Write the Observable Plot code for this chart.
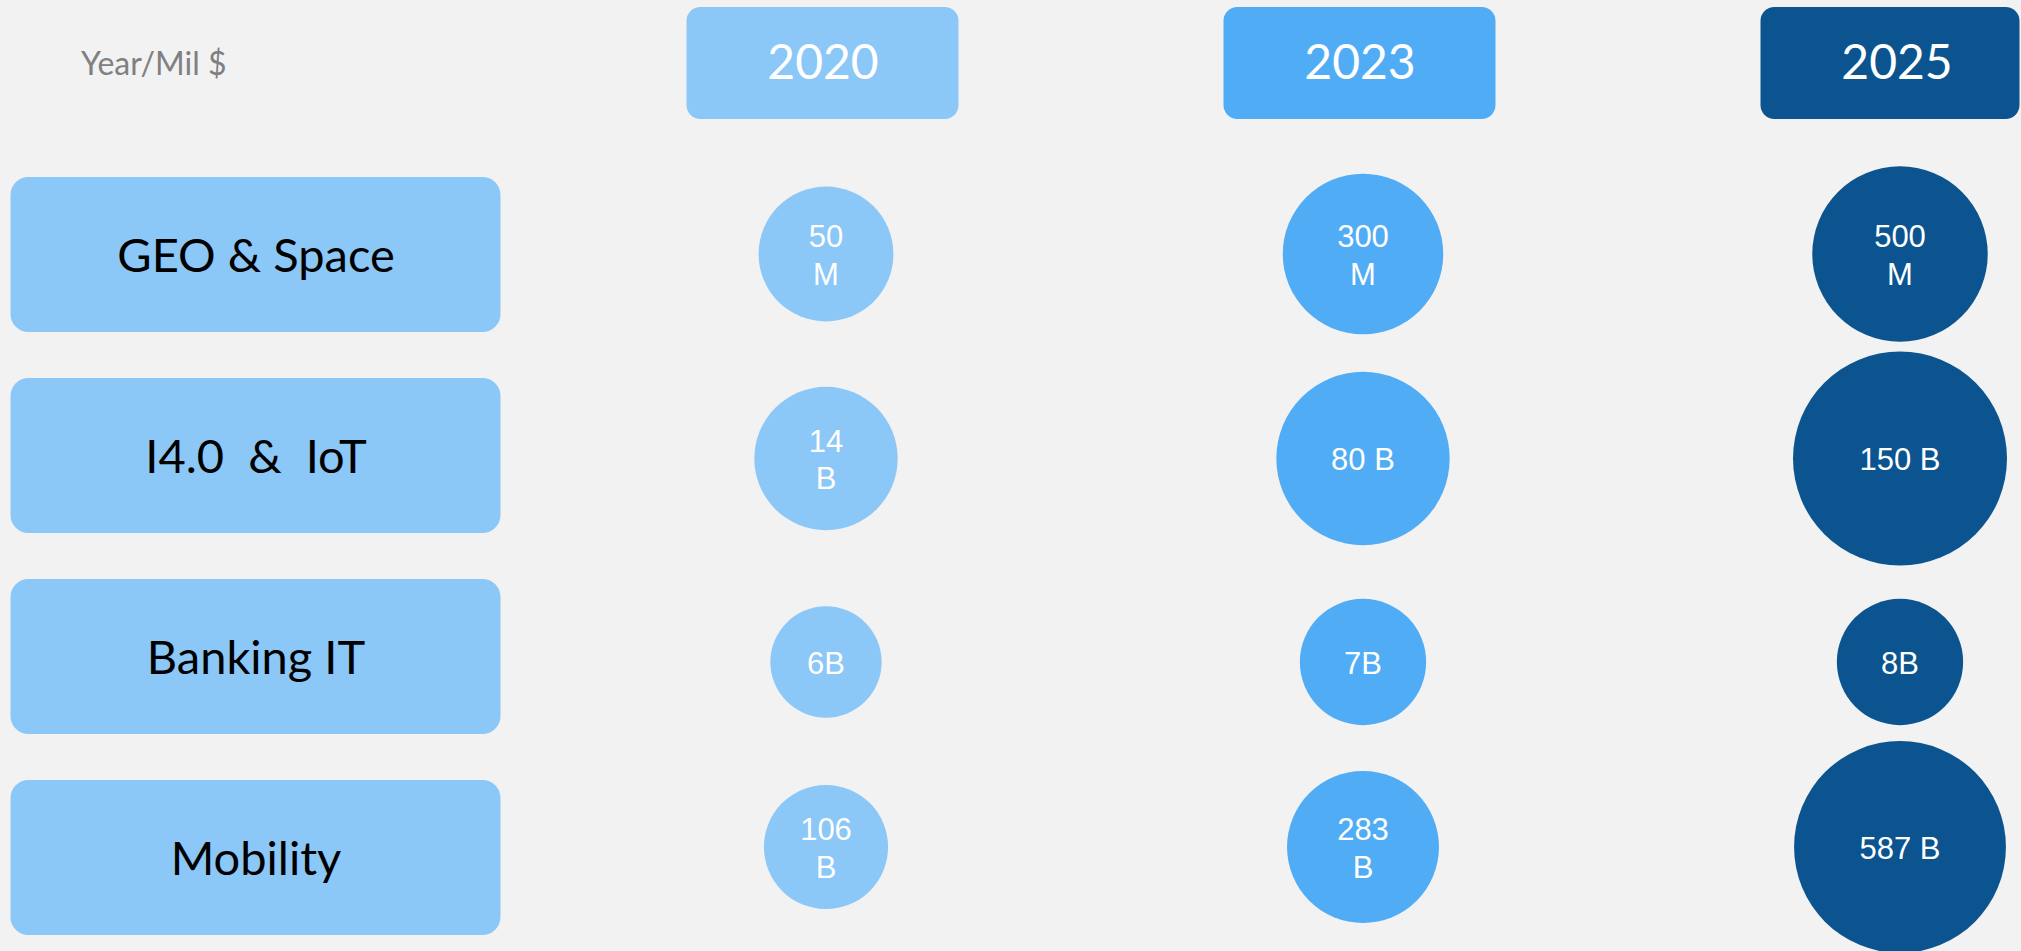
<!DOCTYPE html>
<html>
<head>
<meta charset="utf-8">
<script src="https://cdn.jsdelivr.net/npm/d3@7"></script>
<script src="https://cdn.jsdelivr.net/npm/@observablehq/plot@0.6"></script>
<style>
  html, body { margin: 0; padding: 0; background: #f2f2f2; }
  #chart svg { display: block; }
  #chart text { white-space: pre; }
</style>
</head>
<body>
<div id="chart"></div>
<script>
// ---- data ----
const cornerLabel = "Year/Mil $";
const categories = ["GEO & Space", "I4.0  &  IoT", "Banking IT", "Mobility"];
const years = ["2020", "2023", "2025"];
const labels2020 = ["50\nM", "14\nB", "6B", "106\nB"];
const labels2023 = ["300\nM", "80 B", "7B", "283\nB"];
const labels2025 = ["500\nM", "150 B", "8B", "587 B"];
// relative bubble magnitude (index, largest = 100)
const bubble2020 = [63, 67, 52, 58];
const bubble2023 = [75, 81, 59, 71];
const bubble2025 = [82, 100, 59, 99];
const yearColors = ["#8bc7f7", "#51acf6", "#0b548f"];

const labelsByYear = [labels2020, labels2023, labels2025];
const bubblesByYear = [bubble2020, bubble2023, bubble2025];
const table = years.flatMap((yr, i) => categories.map((c, j) => ({
  year: yr, category: c, label: labelsByYear[i][j], size: bubblesByYear[i][j]
})));

const HEAD = "head";
const LABELCOL = "label";
const gill = "Lato, 'Open Sans', sans-serif";
const arial = "'Liberation Sans', Arial, sans-serif";

// small vertical nudges of the bubble rows (layout style)
const rowNudge = [-1, 2.5, 5, -11];

const bubbleMarks = categories.flatMap((c, j) => {
  const rows = table.filter(d => d.category === c);
  return [
    Plot.dot(rows, { x: "year", y: "category", r: "size", fill: "year", stroke: null, dy: rowNudge[j] }),
    Plot.text(rows, {
      x: "year", y: "category", text: "label", fill: "white",
      fontFamily: arial, fontSize: 31, lineHeight: 1.2, dy: rowNudge[j]
    })
  ];
});

const chart = Plot.plot({
  width: 2021,
  height: 951,
  margin: 0,
  style: { background: "#f2f2f2", overflow: "hidden" },
  x: { type: "band", domain: [LABELCOL, ...years], range: [19.5, 2167.5], padding: 0, axis: null },
  y: { type: "band", domain: [HEAD, ...categories], range: [-48, 959], padding: 0, axis: null },
  r: { type: "linear", domain: [0, 100], range: [0, 107] },
  color: { type: "ordinal", domain: years, range: yearColors },
  marks: [
    // year header boxes
    Plot.cell(years.filter(y => y !== "2025"), {
      x: d => d, y: () => HEAD, fill: d => d, rx: 14,
      insetLeft: 129.5, insetRight: 135.5, insetTop: 54, insetBottom: 35
    }),
    Plot.cell(years.filter(y => y === "2025"), {
      x: d => d, y: () => HEAD, fill: d => d, rx: 14,
      insetLeft: 129.5, insetRight: 148.5, insetTop: 54, insetBottom: 35
    }),
    Plot.text(years, {
      x: d => d, y: () => HEAD, text: d => d, fill: "white",
      fontFamily: gill, fontSize: 48, dx: -3, dy: 10
    }),
    // corner label
    Plot.text([cornerLabel], {
      x: () => LABELCOL, y: () => HEAD, text: d => d, fill: "#808080",
      fontFamily: gill, fontSize: 32, textAnchor: "start", dx: -208, dy: 11
    }),
    // category boxes
    Plot.cell(categories, {
      x: () => LABELCOL, y: d => d, fill: yearColors[0], rx: 18,
      insetLeft: -9.5, insetRight: 56.5, insetTop: 23, insetBottom: 23
    }),
    Plot.text(categories, {
      x: () => LABELCOL, y: d => d, text: d => d, fill: "black",
      fontFamily: gill, fontSize: 47, dx: -33, dy: 2
    }),
    // bubbles
    ...bubbleMarks
  ]
});

document.getElementById("chart").appendChild(chart);
</script>
</body>
</html>
